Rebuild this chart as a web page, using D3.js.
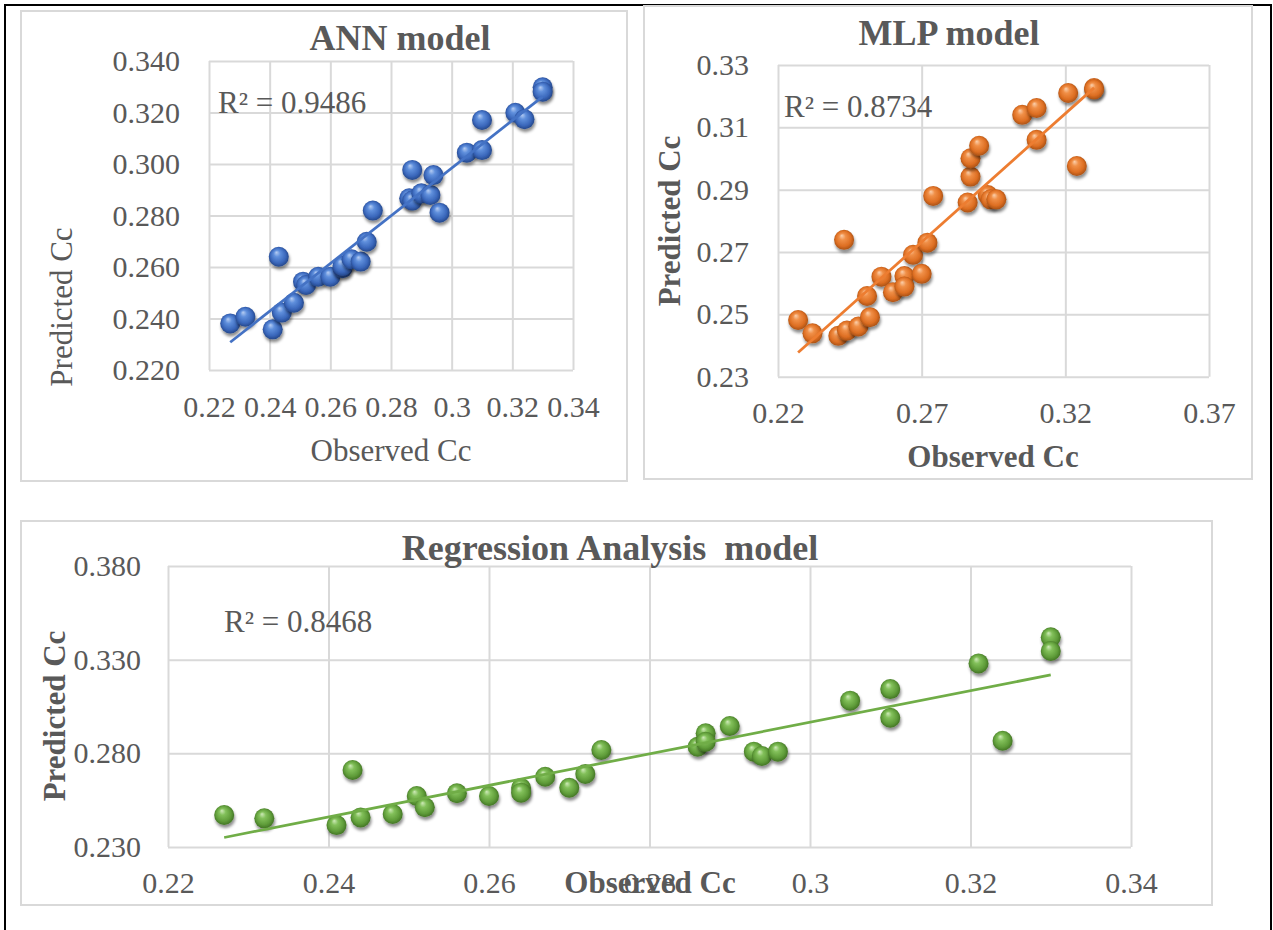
<!DOCTYPE html>
<html>
<head>
<meta charset="utf-8">
<script src="https://cdn.jsdelivr.net/npm/d3@7/dist/d3.min.js"></script>
<style>
  html, body { margin: 0; padding: 0; background: #ffffff; }
  svg { display: block; }
  text { font-family: "Liberation Serif", "Times New Roman", serif; fill: #595959; }
</style>
</head>
<body>
<svg id="chart" width="1273" height="930"></svg>
<script>
// Observed compression index shared by all three models
const observedCc = [0.227, 0.232, 0.241, 0.243, 0.244, 0.248, 0.251, 0.252, 0.256, 0.260,
                    0.264, 0.264, 0.267, 0.270, 0.272, 0.274, 0.286, 0.287, 0.287, 0.290,
                    0.293, 0.294, 0.296, 0.305, 0.310, 0.310, 0.321, 0.324, 0.330, 0.330];

// Predicted Cc for each model, in the same order as observedCc
const annPredicted = [0.2381, 0.2407, 0.2358, 0.2640, 0.2423, 0.2461, 0.2543, 0.2530, 0.2562, 0.2562,
                      0.2595, 0.2605, 0.2630, 0.2621, 0.2698, 0.2819, 0.2867, 0.2977, 0.2858, 0.2886,
                      0.2880, 0.2957, 0.2811, 0.3044, 0.3054, 0.3171, 0.3199, 0.3174, 0.3298, 0.3281];
const mlpPredicted = [0.2482, 0.2439, 0.2431, 0.2739, 0.2448, 0.2461, 0.2559, 0.2491, 0.2621, 0.2571,
                      0.2623, 0.2589, 0.2691, 0.2630, 0.2730, 0.2880, 0.2859, 0.2942, 0.3001, 0.3041,
                      0.2883, 0.2869, 0.2869, 0.3140, 0.3060, 0.3162, 0.3210, 0.2976, 0.3226, 0.3222];
const regPredicted = [0.2471, 0.2453, 0.2417, 0.2711, 0.2458, 0.2476, 0.2572, 0.2512, 0.2587, 0.2572,
                      0.2615, 0.2590, 0.2675, 0.2616, 0.2690, 0.2818, 0.2835, 0.2907, 0.2862, 0.2946,
                      0.2809, 0.2786, 0.2809, 0.3081, 0.3143, 0.2990, 0.3280, 0.2867, 0.3419, 0.3346];

// Coefficients of determination shown on each chart
const rSquared = [0.9486, 0.8734, 0.8468];

// Tick values and their labels
const annXTicks = [0.22, 0.24, 0.26, 0.28, 0.30, 0.32, 0.34];
const annXLabels = ["0.22", "0.24", "0.26", "0.28", "0.3", "0.32", "0.34"];
const annYTicks = [0.22, 0.24, 0.26, 0.28, 0.30, 0.32, 0.34];
const annYLabels = ["0.220", "0.240", "0.260", "0.280", "0.300", "0.320", "0.340"];

const mlpXTicks = [0.22, 0.27, 0.32, 0.37];
const mlpXLabels = ["0.22", "0.27", "0.32", "0.37"];
const mlpYTicks = [0.23, 0.25, 0.27, 0.29, 0.31, 0.33];
const mlpYLabels = ["0.23", "0.25", "0.27", "0.29", "0.31", "0.33"];

const regXTicks = [0.22, 0.24, 0.26, 0.28, 0.30, 0.32, 0.34];
const regXLabels = ["0.22", "0.24", "0.26", "0.28", "0.3", "0.32", "0.34"];
const regYTicks = [0.23, 0.28, 0.33, 0.38];
const regYLabels = ["0.230", "0.280", "0.330", "0.380"];

const svg = d3.select("#chart");
const defs = svg.append("defs");

// Soft shadow under each sphere marker
const shadow = defs.append("filter").attr("id", "ballShadow")
  .attr("x", "-50%").attr("y", "-50%").attr("width", "200%").attr("height", "200%");
shadow.append("feDropShadow").attr("dx", 1).attr("dy", 3).attr("stdDeviation", 1.6)
  .attr("flood-color", "#000").attr("flood-opacity", 0.45);

// Shaded sphere gradients
function sphereGradient(id, stops) {
  const g = defs.append("radialGradient").attr("id", id)
    .attr("cx", "50%").attr("cy", "50%").attr("r", "55%")
    .attr("fx", "38%").attr("fy", "28%");
  stops.forEach(([o, c]) => g.append("stop").attr("offset", o).attr("stop-color", c));
}
sphereGradient("ballBlue",   [["0%", "#b6cdf3"], ["30%", "#5f8fdc"], ["70%", "#3a67bb"], ["100%", "#1f3f7e"]]);
sphereGradient("ballOrange", [["0%", "#fbd0ad"], ["30%", "#f08f47"], ["70%", "#dd6e22"], ["100%", "#9c4a12"]]);
sphereGradient("ballGreen",  [["0%", "#cfeab9"], ["30%", "#82c05a"], ["70%", "#5f9c39"], ["100%", "#3b6a1f"]]);

// Outer frame of the figure
svg.append("rect").attr("x", 5).attr("y", 5).attr("width", 1266).attr("height", 940)
  .attr("fill", "none").attr("stroke", "#000").attr("stroke-width", 2);

function leastSquares(xs, ys) {
  const mx = d3.mean(xs), my = d3.mean(ys);
  let sxy = 0, sxx = 0;
  xs.forEach((x, i) => { sxy += (x - mx) * (ys[i] - my); sxx += (x - mx) * (x - mx); });
  const slope = sxy / sxx;
  return { slope, intercept: my - slope * mx };
}

function drawPanel(p) {
  const g = svg.append("g");

  // chart frame
  g.append("rect").attr("x", p.frame[0]).attr("y", p.frame[1])
    .attr("width", p.frame[2] - p.frame[0]).attr("height", p.frame[3] - p.frame[1])
    .attr("fill", "#fff").attr("stroke", "#d9d9d9").attr("stroke-width", 2);

  const x = d3.scaleLinear().domain(p.xDomain).range([p.plot.left, p.plot.right]);
  const y = d3.scaleLinear().domain(p.yDomain).range([p.plot.bottom, p.plot.top]);
  const w = p.plot.right - p.plot.left, h = p.plot.bottom - p.plot.top;

  // gridlines + tick labels through d3 axes
  const xAxis = g.append("g").attr("transform", `translate(0,${p.plot.bottom})`)
    .call(d3.axisBottom(x).tickValues(p.xTicks).tickFormat((d, i) => p.xLabels[i])
      .tickSizeInner(-h).tickSizeOuter(0).tickPadding(p.xPad));
  const yAxis = g.append("g").attr("transform", `translate(${p.plot.left},0)`)
    .call(d3.axisLeft(y).tickValues(p.yTicks).tickFormat((d, i) => p.yLabels[i])
      .tickSizeInner(-w).tickSizeOuter(0).tickPadding(p.yPad));
  [xAxis, yAxis].forEach(a => {
    a.select(".domain").remove();
    a.selectAll(".tick line").attr("stroke", "#d9d9d9").attr("stroke-width", 2);
    a.selectAll(".tick text").attr("fill", "#595959")
      .style("font-family", '"Liberation Serif", "Times New Roman", serif')
      .style("font-size", p.tickFont + "px");
  });

  // title
  g.append("text").attr("x", p.title.x).attr("y", p.title.y).attr("text-anchor", "middle")
    .attr("xml:space", "preserve").style("white-space", "pre")
    .style("font-size", "36px").style("font-weight", "bold").text(p.title.text);

  // axis titles
  g.append("text").attr("x", p.xTitle.x).attr("y", p.xTitle.y).attr("text-anchor", "middle")
    .style("font-size", "31px").style("font-weight", p.axisBold ? "bold" : "normal")
    .text("Observed Cc");
  g.append("text").attr("transform", `translate(${p.yTitle.x},${p.yTitle.y}) rotate(-90)`)
    .attr("text-anchor", "middle")
    .style("font-size", "31px").style("font-weight", p.axisBold ? "bold" : "normal")
    .text("Predicted Cc");

  // markers
  const pts = observedCc.map((o, i) => ({ o, v: p.values[i] }));
  g.append("g").selectAll("circle").data(pts).join("circle")
    .attr("cx", d => x(d.o)).attr("cy", d => y(d.v)).attr("r", 10)
    .attr("fill", `url(#${p.ball})`).attr("filter", "url(#ballShadow)");

  // linear trendline across the observed range
  const fit = leastSquares(observedCc, p.values);
  const ext = d3.extent(observedCc);
  g.append("path")
    .datum(ext.map(o => [o, fit.intercept + fit.slope * o]))
    .attr("d", d3.line().x(d => x(d[0])).y(d => y(d[1])))
    .attr("stroke", p.lineColor).attr("stroke-width", 2.75).attr("fill", "none");

  // R² label
  g.append("text").attr("x", p.r2.x).attr("y", p.r2.y)
    .style("font-size", "31px").text(`R² = ${p.r2.value.toFixed(4)}`);
}

drawPanel({
  frame: [21, 11, 627, 481],
  plot: { left: 209, right: 573, top: 61, bottom: 370 },
  xDomain: [0.22, 0.34], yDomain: [0.22, 0.34],
  xTicks: annXTicks, xLabels: annXLabels, yTicks: annYTicks, yLabels: annYLabels,
  xPad: 26, yPad: 29, tickFont: 30,
  title: { text: "ANN model", x: 400, y: 50 },
  xTitle: { x: 391, y: 461 }, yTitle: { x: 72, y: 307 }, axisBold: false,
  values: annPredicted, ball: "ballBlue", lineColor: "#4472c4",
  r2: { x: 218, y: 113, value: rSquared[0] }
});

drawPanel({
  frame: [644, 6, 1252, 479],
  plot: { left: 778, right: 1209, top: 65, bottom: 376.7 },
  xDomain: [0.22, 0.37], yDomain: [0.23, 0.33],
  xTicks: mlpXTicks, xLabels: mlpXLabels, yTicks: mlpYTicks, yLabels: mlpYLabels,
  xPad: 25, yPad: 29, tickFont: 30,
  title: { text: "MLP model", x: 949, y: 45 },
  xTitle: { x: 993, y: 467 }, yTitle: { x: 680, y: 221 }, axisBold: true,
  values: mlpPredicted, ball: "ballOrange", lineColor: "#ed7d31",
  r2: { x: 784, y: 117, value: rSquared[1] }
});

drawPanel({
  frame: [21, 521, 1212, 905],
  plot: { left: 168, right: 1131, top: 566, bottom: 847 },
  xDomain: [0.22, 0.34], yDomain: [0.23, 0.38],
  xTicks: regXTicks, xLabels: regXLabels, yTicks: regYTicks, yLabels: regYLabels,
  xPad: 25, yPad: 27, tickFont: 30,
  title: { text: "Regression Analysis  model", x: 610, y: 560 },
  xTitle: { x: 650, y: 893 }, yTitle: { x: 65, y: 716 }, axisBold: true,
  values: regPredicted, ball: "ballGreen", lineColor: "#70ad47",
  r2: { x: 224, y: 632, value: rSquared[2] }
});
</script>
</body>
</html>
